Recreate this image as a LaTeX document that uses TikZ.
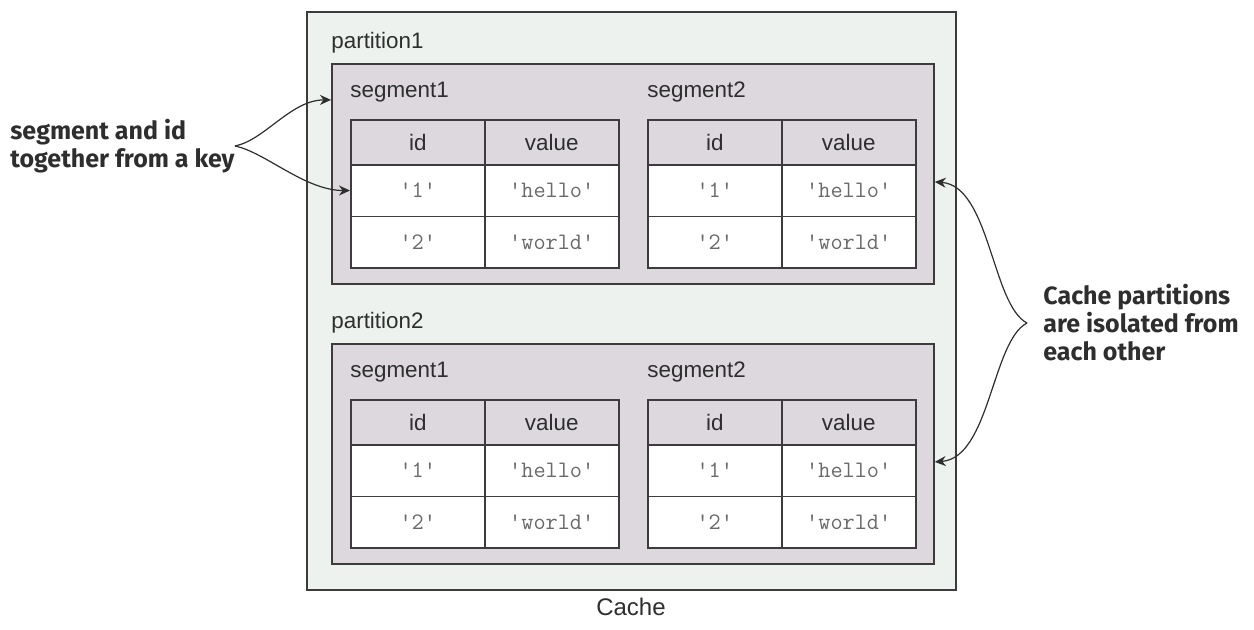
\documentclass[tikz,border=0pt]{standalone}
\usepackage{fontspec}
\setmainfont{Liberation Sans}
\newfontfamily\codefont{Latin Modern Mono}[Ligatures=TeXOff]
\newfontfamily\notefont{Fira Sans}
\usepackage{tikz}
\usetikzlibrary{arrows.meta}
\definecolor{cachebg}{HTML}{EEF2EF}
\definecolor{partbg}{HTML}{DCD8DE}
\definecolor{edge}{HTML}{3C3C3C}
\definecolor{ink}{HTML}{2E2E2E}
\definecolor{codegray}{HTML}{6A6A6A}
\tikzset{
  box/.style={draw=edge, line width=0.9pt, inner sep=0pt},
  cell/.style={draw=edge, line width=0.75pt, minimum width=67pt, inner sep=0pt, anchor=north west},
  head/.style={cell, fill=partbg, minimum height=22.5pt, font=\fontsize{11.2}{13}\selectfont, text=ink},
  entry/.style={cell, fill=white, minimum height=25.75pt, font=\codefont\fontsize{11.8}{13}\selectfont, text=codegray},
  tag/.style={anchor=west, inner sep=0pt, font=\fontsize{11.2}{13}\selectfont, text=ink},
  note/.style={anchor=west, align=left, inner sep=0pt, font=\notefont\bfseries\fontsize{12.5}{14}\selectfont, text=ink},
  arrow/.style={-{Stealth[length=5.5pt,width=5pt]}, line width=0.6pt, draw=ink}
}

\begin{document}
\begin{tikzpicture}[x=0.5pt, y=-0.5pt]
  \useasboundingbox (0,0) rectangle (1254,629);
  % cache
  \node[box, fill=cachebg, minimum width=324.5pt, minimum height=289pt] (cache) at (631.5,301) {};
  \node[font=\fontsize{12}{14}\selectfont, text=ink] (cachelbl) at (631,607) {Cache};

  % partitions and segments
  \foreach \p/\py in {1/63, 2/343} {
    \node[box, fill=partbg, minimum width=301pt, minimum height=110pt, anchor=north west] (part\p) at (331,\py) {};
    \node[tag] (plbl\p) at (331,\py-20) {partition\p};
    \foreach \s/\sx in {1/350, 2/647} {
      \node[tag] (slbl\p\s) at (\sx,\py+29) {segment\s};
      \node[head] (idh\p\s) at (\sx,\py+56) {id};
      \node[head] (valh\p\s) at (\sx+134,\py+56) {value};
      \foreach \r/\ry/\v in {1/101/hello, 2/152.5/world} {
        \node[entry] (key\p\s\r) at (\sx,\py+\ry) {'\r'};
        \node[entry] (val\p\s\r) at (\sx+134,\py+\ry) {'\v'};
      }
    }
  }

  % notes
  \node[note] (keynote) at (10,146) {segment and id\\together from a key};
  \node[note] (isonote) at (1043,323) {Cache partitions\\are isolated from\\each other};

  \draw[arrow] (keynote.east) .. controls +(30,-6) and +(-40,0) .. ([yshift=37pt]part1.west);
  \draw[arrow] (keynote.east) .. controls +(30,6) and +(-45,0) .. (key111.west);
  \draw[arrow] ([xshift=-8pt]isonote.west) .. controls +(-35,-18) and +(55,4) .. ([yshift=-4pt]part1.east);
  \draw[arrow] ([xshift=-8pt]isonote.west) .. controls +(-35,18) and +(55,-4) .. ([yshift=-4pt]part2.east);
\end{tikzpicture}
\end{document}
